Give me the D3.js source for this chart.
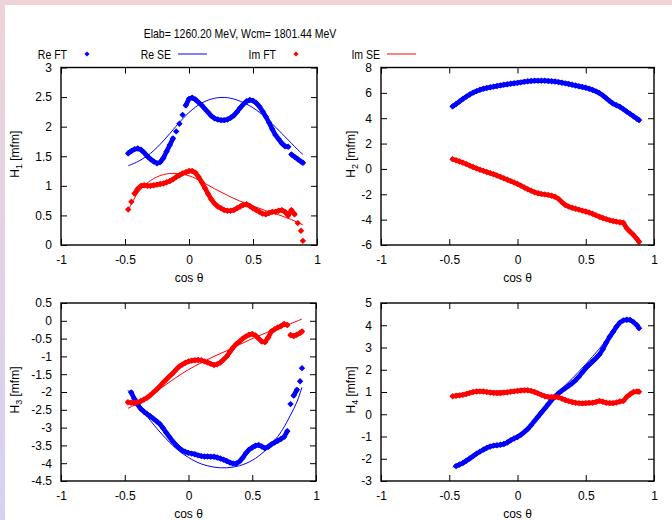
<!DOCTYPE html>
<html>
<head>
<meta charset="utf-8">
<script src="https://cdn.jsdelivr.net/npm/d3@7"></script>
<style>
  html, body { margin: 0; padding: 0; background: #fff; }
  svg { display: block; font-family: "Liberation Sans", Arial, sans-serif; }
</style>
</head>
<body>
<svg id="chart" width="672" height="520"></svg>
<script>
// Angular grid of the FT points (cos theta)
const cosTheta = [
  -0.475, -0.45, -0.425, -0.4, -0.375, -0.35, -0.325, -0.3, -0.275, -0.25,
  -0.225, -0.2, -0.175, -0.15, -0.125, -0.1, -0.075, -0.05, -0.025, 0,
  0.025, 0.05, 0.075, 0.1, 0.125, 0.15, 0.175, 0.2, 0.225, 0.25,
  0.275, 0.3, 0.325, 0.35, 0.375, 0.4, 0.425, 0.45, 0.475, 0.5,
  0.525, 0.55, 0.575, 0.6, 0.625, 0.65, 0.675, 0.7, 0.725, 0.75,
  0.775, 0.8, 0.825, 0.85, 0.875, 0.89
];

// H1
const h1ReFT = [
  1.55, 1.59, 1.62, 1.63, 1.61, 1.56, 1.50, 1.45, 1.41, 1.38,
  1.40, 1.47, 1.58, 1.69, 1.80, 1.92, 2.05, 2.20, 2.36, 2.47,
  2.49, 2.46, 2.41, 2.36, 2.30, 2.24, 2.18, 2.14, 2.12, 2.11,
  2.11, 2.12, 2.15, 2.19, 2.25, 2.32, 2.38, 2.43, 2.45, 2.44,
  2.40, 2.34, 2.26, 2.17, 2.07, 1.96, 1.86, 1.79, 1.72, 1.67,
  1.66, 1.53, 1.49, 1.45, 1.41, 1.39
];
const h1ImFT = [
  0.60, 0.73, 0.87, 0.95, 1.00, 1.01, 1.00, 1.00, 1.01, 1.02,
  1.03, 1.04, 1.06, 1.08, 1.11, 1.15, 1.18, 1.21, 1.23, 1.25,
  1.25, 1.22, 1.15, 1.06, 0.96, 0.86, 0.77, 0.70, 0.65, 0.62,
  0.59, 0.58, 0.58, 0.59, 0.62, 0.65, 0.68, 0.69, 0.66, 0.62,
  0.59, 0.56, 0.53, 0.52, 0.54, 0.56, 0.56, 0.58, 0.59, 0.56,
  0.50, 0.59, 0.52, 0.37, 0.24, 0.07
];

// H2
const h2ReFT = [
  4.93, 5.12, 5.32, 5.52, 5.70, 5.87, 6.02, 6.14, 6.24, 6.32,
  6.38, 6.44, 6.49, 6.54, 6.59, 6.64, 6.68, 6.72, 6.76, 6.79,
  6.83, 6.87, 6.91, 6.94, 6.95, 6.96, 6.96, 6.95, 6.94, 6.92,
  6.89, 6.85, 6.80, 6.75, 6.70, 6.64, 6.58, 6.52, 6.46, 6.40,
  6.32, 6.23, 6.12, 5.98, 5.80, 5.58, 5.35, 5.15, 5.02, 4.90,
  4.72, 4.52, 4.34, 4.15, 3.96, 3.85
];
const h2ImFT = [
  0.77, 0.68, 0.59, 0.49, 0.38, 0.26, 0.15, 0.04, -0.06, -0.15,
  -0.24, -0.33, -0.42, -0.52, -0.63, -0.74, -0.85, -0.96, -1.07, -1.19,
  -1.32, -1.46, -1.60, -1.72, -1.84, -1.92, -1.97, -2.01, -2.05, -2.11,
  -2.20, -2.36, -2.62, -2.84, -2.97, -3.06, -3.14, -3.21, -3.29, -3.36,
  -3.44, -3.54, -3.66, -3.77, -3.87, -3.96, -4.04, -4.11, -4.16, -4.20,
  -4.24, -4.68, -4.95, -5.21, -5.52, -5.74
];

// H3
const h3ReFT = [
  null, -2.01, -2.19, -2.35, -2.47, -2.55, -2.62, -2.68, -2.75, -2.82,
  -2.90, -3.01, -3.14, -3.26, -3.38, -3.48, -3.57, -3.64, -3.68, -3.71,
  -3.73, -3.75, -3.78, -3.80, -3.81, -3.81, -3.82, -3.82, -3.84, -3.87,
  -3.90, -3.94, -3.98, -4.01, -4.01, -3.95, -3.85, -3.72, -3.62, -3.56,
  -3.51, -3.49, -3.53, -3.58, -3.54, -3.47, -3.42, -3.37, -3.32, -3.26,
  -3.10, -2.34, -2.10, -1.94, -1.70, -1.33
];
const h3ImFT = [
  -2.29, -2.30, -2.30, -2.29, -2.26, -2.21, -2.16, -2.09, -2.01, -1.93,
  -1.84, -1.74, -1.65, -1.56, -1.48, -1.38, -1.29, -1.23, -1.18, -1.14,
  -1.12, -1.11, -1.10, -1.11, -1.14, -1.17, -1.21, -1.24, -1.22, -1.17,
  -1.09, -1.00, -0.87, -0.75, -0.65, -0.58, -0.50, -0.44, -0.39, -0.37,
  -0.41, -0.50, -0.58, -0.60, -0.47, -0.30, -0.24, -0.19, -0.15, -0.09,
  -0.12, -0.40, -0.43, -0.39, -0.34, -0.30
];

// H4
const h4ReFT = [
  null, -2.33, -2.26, -2.19, -2.09, -1.99, -1.88, -1.77, -1.68, -1.59,
  -1.51, -1.45, -1.41, -1.39, -1.37, -1.34, -1.27, -1.17, -1.09, -1.02,
  -0.92, -0.80, -0.66, -0.49, -0.30, -0.11, 0.08, 0.26, 0.45, 0.64,
  0.80, 0.94, 1.06, 1.17, 1.28, 1.39, 1.53, 1.69, 1.88, 2.07,
  2.22, 2.37, 2.52, 2.68, 2.92, 3.22, 3.48, 3.70, 3.93, 4.12,
  4.22, 4.25, 4.24, 4.14, 4.00, 3.87
];
const h4ImFT = [
  0.81, 0.83, 0.85, 0.87, 0.91, 0.96, 1.00, 1.02, 1.03, 1.02,
  1.00, 0.98, 0.96, 0.95, 0.95, 0.97, 0.99, 1.01, 1.03, 1.05,
  1.07, 1.08, 1.08, 1.05, 1.00, 0.94, 0.87, 0.81, 0.78, 0.77,
  0.78, 0.76, 0.70, 0.64, 0.59, 0.55, 0.52, 0.50, 0.49, 0.50,
  0.51, 0.52, 0.55, 0.60, 0.56, 0.52, 0.50, 0.50, 0.53, 0.57,
  0.60, 0.78, 0.90, 1.00, 1.02, 1.01
];

// SE curves
const seCos = [-0.475, -0.4, -0.3, -0.2, -0.1, 0, 0.1, 0.2, 0.3, 0.4, 0.5, 0.6, 0.7, 0.75, 0.8, 0.85, 0.89];
const h1ReSE = [1.34, 1.41, 1.55, 1.76, 2.01, 2.24, 2.40, 2.48, 2.49, 2.43, 2.32, 2.15, 1.94, 1.83, 1.72, 1.61, 1.53];
const h1ImSE = [0.58, 0.88, 1.09, 1.19, 1.21, 1.17, 1.07, 0.95, 0.84, 0.74, 0.66, 0.58, 0.51, 0.47, 0.43, 0.38, 0.34];
const h2ReSE = [4.95, 5.55, 6.12, 6.48, 6.70, 6.84, 6.94, 6.97, 6.90, 6.70, 6.40, 5.98, 5.30, 4.95, 4.58, 4.18, 3.85];
const h2ImSE = [0.78, 0.48, 0.05, -0.34, -0.75, -1.18, -1.68, -2.05, -2.42, -2.98, -3.36, -3.76, -4.10, -4.30, -4.60, -5.15, -5.70];
const h3ReSE = [-1.95, -2.32, -2.80, -3.22, -3.58, -3.84, -4.02, -4.11, -4.13, -4.07, -3.92, -3.65, -3.25, -2.98, -2.65, -2.28, -1.87];
const h3ImSE = [-2.46, -2.32, -2.10, -1.85, -1.60, -1.37, -1.18, -1.00, -0.84, -0.67, -0.50, -0.35, -0.21, -0.14, -0.08, -0.01, 0.05];
const h4ReSE = [-2.38, -2.15, -1.77, -1.48, -1.28, -0.98, -0.42, 0.30, 1.00, 1.60, 2.25, 2.95, 3.70, 4.05, 4.24, 4.18, 3.88];
const h4ImSE = [0.82, 0.90, 1.02, 1.05, 1.06, 1.08, 1.04, 0.88, 0.72, 0.58, 0.52, 0.55, 0.55, 0.62, 0.75, 0.92, 1.00];

// Axis ticks
const xTicks = [-1, -0.5, 0, 0.5, 1];
const h1Ticks = [0, 0.5, 1, 1.5, 2, 2.5, 3];
const h2Ticks = [-6, -4, -2, 0, 2, 4, 6, 8];
const h3Ticks = [-4.5, -4, -3.5, -3, -2.5, -2, -1.5, -1, -0.5, 0, 0.5];
const h4Ticks = [-3, -2, -1, 0, 1, 2, 3, 4, 5];

const titleText = "Elab= 1260.20 MeV, Wcm= 1801.44 MeV";
const legendLabels = ["Re FT", "Re SE", "Im FT", "Im SE"];

const RE = "#0000ff", IM = "#ff0000";
const NARROW = 0.84; // horizontal squeeze of the heading and key lettering

const svg = d3.select("#chart");

// page background with tinted border strips
const defs = svg.append("defs");
const grad = defs.append("linearGradient").attr("id", "edge").attr("x1", 0).attr("y1", 0).attr("x2", 0).attr("y2", 1);
grad.append("stop").attr("offset", "0%").attr("stop-color", "#efd3d8");
grad.append("stop").attr("offset", "100%").attr("stop-color", "#d6d1f3");
svg.append("rect").attr("x", 0).attr("y", 0).attr("width", 672).attr("height", 520).attr("fill", "#fff");
svg.append("rect").attr("x", 0).attr("y", 0).attr("width", 672).attr("height", 5).attr("fill", "#efd3d8");
svg.append("rect").attr("x", 0).attr("y", 0).attr("width", 5).attr("height", 520).attr("fill", "url(#edge)");

const narrowText = (x, y, anchor, str) =>
  svg.append("text").attr("transform", `translate(${x},${y}) scale(${NARROW},1)`)
    .attr("text-anchor", anchor).attr("font-size", 12.5).attr("fill", "#000").text(str);

// title
narrowText(240, 37.5, "middle", titleText);

// legend
const diamond = (s) => `M0,${-s}L${s},0L0,${s}L${-s},0Z`;
const legendY = 54;
const legendItems = [
  { label: legendLabels[0], textEnd: 67, kind: "pt", color: RE, x: 87 },
  { label: legendLabels[1], textEnd: 171, kind: "ln", color: RE, x: 178 },
  { label: legendLabels[2], textEnd: 276, kind: "pt", color: IM, x: 296 },
  { label: legendLabels[3], textEnd: 380, kind: "ln", color: IM, x: 387 }
];
legendItems.forEach(d => {
  narrowText(d.textEnd, legendY + 4.5, "end", d.label);
  if (d.kind === "pt") {
    svg.append("path").attr("d", diamond(2.6)).attr("transform", `translate(${d.x},${legendY})`).attr("fill", d.color);
  } else {
    svg.append("line").attr("x1", d.x).attr("x2", d.x + 29).attr("y1", legendY).attr("y2", legendY)
      .attr("stroke", d.color).attr("stroke-width", 1);
  }
});

const panels = [
  { sub: "1", left: 61, right: 317, top: 67.5, bottom: 245, domain: [0, 3], ticks: h1Ticks,
    labelX: 15, re: h1ReFT, im: h1ImFT, reSE: h1ReSE, imSE: h1ImSE },
  { sub: "2", left: 381, right: 654, top: 67.5, bottom: 245, domain: [-6, 8], ticks: h2Ticks,
    labelX: 351, re: h2ReFT, im: h2ImFT, reSE: h2ReSE, imSE: h2ImSE },
  { sub: "3", left: 61, right: 316, top: 303, bottom: 481, domain: [-4.5, 0.5], ticks: h3Ticks,
    labelX: 15, re: h3ReFT, im: h3ImFT, reSE: h3ReSE, imSE: h3ImSE },
  { sub: "4", left: 381, right: 654, top: 303, bottom: 481, domain: [-3, 5], ticks: h4Ticks,
    labelX: 351, re: h4ReFT, im: h4ImFT, reSE: h4ReSE, imSE: h4ImSE }
];

const fmt = d => String(d);

panels.forEach(p => {
  const x = d3.scaleLinear().domain([-1, 1]).range([p.left, p.right]);
  const y = d3.scaleLinear().domain(p.domain).range([p.bottom, p.top]);
  const g = svg.append("g");

  const styleAxis = sel => {
    sel.select(".domain").remove();
    sel.selectAll(".tick line").attr("stroke", "#000").attr("stroke-width", 1);
    sel.selectAll(".tick text").attr("font-size", 12).attr("fill", "#000")
      .attr("font-family", "'Liberation Sans', Arial, sans-serif");
  };

  g.append("g").attr("transform", `translate(${p.left},0)`)
    .call(d3.axisLeft(y).tickValues(p.ticks).tickFormat(fmt).tickSizeInner(-6).tickSizeOuter(0).tickPadding(9))
    .call(styleAxis);
  g.append("g").attr("transform", `translate(${p.right},0)`)
    .call(d3.axisRight(y).tickValues(p.ticks).tickFormat("").tickSizeInner(-6).tickSizeOuter(0))
    .call(styleAxis);
  g.append("g").attr("transform", `translate(0,${p.bottom})`)
    .call(d3.axisBottom(x).tickValues(xTicks).tickFormat(fmt).tickSizeInner(-6).tickSizeOuter(0).tickPadding(10))
    .call(styleAxis);
  g.append("g").attr("transform", `translate(0,${p.top})`)
    .call(d3.axisTop(x).tickValues(xTicks).tickFormat("").tickSizeInner(-6).tickSizeOuter(0))
    .call(styleAxis);

  // x axis title
  g.append("text").attr("x", (p.left + p.right) / 2).attr("y", p.bottom + 37)
    .attr("text-anchor", "middle").attr("font-size", 12).attr("fill", "#000").text("cos θ");

  // y axis title with subscript
  const cy = (p.top + p.bottom) / 2 - 2;
  const yl = g.append("text").attr("transform", `translate(${p.labelX + 4},${cy}) rotate(-90)`)
    .attr("text-anchor", "middle").attr("font-size", 12).attr("fill", "#000");
  yl.append("tspan").text("H");
  yl.append("tspan").attr("font-size", 9).attr("dy", 3).text(p.sub);
  yl.append("tspan").attr("dy", -3).text(" [mfm]");

  const pts = arr => cosTheta.map((c, i) => [c, arr[i]]).filter(d => d[1] !== null);
  const seLine = d3.line().x(d => x(d[0])).y(d => y(d[1])).curve(d3.curveCatmullRom.alpha(0.5));
  const seData = arr => seCos.map((c, i) => [c, arr[i]]);

  // closely packed FT points merge into a band; widely spaced ones stay separate
  const runs = arr => {
    const out = [];
    let cur = [];
    pts(arr).forEach(d => {
      const sx = x(d[0]), sy = y(d[1]);
      if (cur.length) {
        const [px, py] = cur[cur.length - 1];
        if (Math.hypot(sx - px, sy - py) > 7.5) { out.push(cur); cur = []; }
      }
      cur.push([sx, sy]);
    });
    if (cur.length) out.push(cur);
    return out;
  };

  const drawPts = (arr, color) => {
    const layer = g.append("g");
    layer.selectAll("path.band").data(runs(arr).filter(r => r.length > 1)).join("path")
      .attr("class", "band")
      .attr("d", d3.line())
      .attr("fill", "none").attr("stroke", color).attr("stroke-width", 4.6)
      .attr("stroke-linejoin", "round").attr("stroke-linecap", "round");
    layer.selectAll("path.pt").data(pts(arr)).join("path")
      .attr("class", "pt")
      .attr("d", diamond(3.2))
      .attr("transform", d => `translate(${x(d[0])},${y(d[1])})`)
      .attr("fill", color);
  };
  const drawLine = (arr, color) => {
    g.append("path").datum(seData(arr)).attr("d", seLine)
      .attr("fill", "none").attr("stroke", color).attr("stroke-width", 1);
  };

  drawPts(p.re, RE);
  drawLine(p.reSE, RE);
  drawPts(p.im, IM);
  drawLine(p.imSE, IM);

  // plot frame
  g.append("rect").attr("x", p.left).attr("y", p.top)
    .attr("width", p.right - p.left).attr("height", p.bottom - p.top)
    .attr("fill", "none").attr("stroke", "#000").attr("stroke-width", 1.4);
});
</script>
</body>
</html>
